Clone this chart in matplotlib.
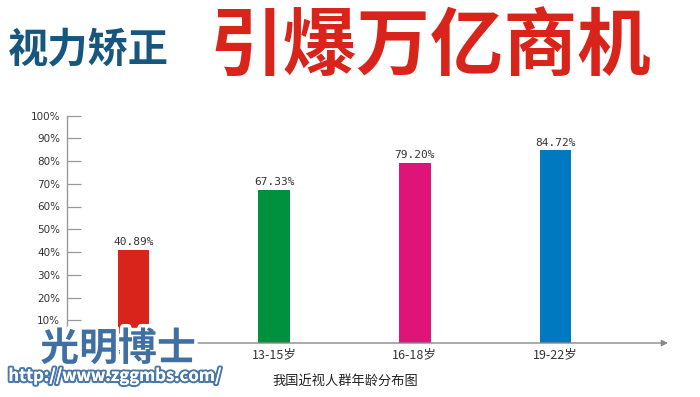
import matplotlib.pyplot as plt
import matplotlib.patheffects as pe

plt.rcParams['font.family'] = ['Noto Sans CJK SC', 'DejaVu Sans']

# data
ages = ["7-12岁", "13-15岁", "16-18岁", "19-22岁"]
rates = [40.89, 67.33, 79.20, 84.72]
bar_colors = ["#d9241c", "#00913f", "#df1479", "#0079c1"]
yticks = [10, 20, 30, 40, 50, 60, 70, 80, 90, 100]

fig = plt.figure(figsize=(7, 3.97), dpi=100)
fig.patch.set_facecolor("white")

# axes placed to match the pixel layout
ax = fig.add_axes([67 / 700, 1 - 343 / 397, (668 - 67) / 700, (343 - 115.5) / 397])
x = list(range(len(ages)))
ax.bar(x, rates, width=0.225, color=bar_colors, zorder=2)
ax.set_xlim(-0.473, 3.80)
ax.set_ylim(0, 100)

for xi, v in zip(x, rates):
    ax.text(xi, v + 1.2, f"{v:.2f}%", ha="center", va="bottom",
            fontsize=8, color="#333333", family="DejaVu Sans Mono")

ax.set_yticks(yticks)
ax.set_yticklabels([f"{t}%" for t in yticks], fontsize=7.5, color="#333333",
                   family="DejaVu Sans")
ax.tick_params(axis="y", direction="in", length=10, width=0.9, color="#999999", pad=5)
ax.set_xticks(x)
ax.set_xticklabels(ages, fontsize=9, color="#333333")
ax.tick_params(axis="x", length=0, pad=4)

for s in ["top", "right"]:
    ax.spines[s].set_visible(False)
ax.spines["left"].set_color("#999999")
ax.spines["left"].set_linewidth(1.0)
ax.spines["bottom"].set_visible(False)
ax.annotate("", xy=(1.0, 0), xytext=(0, 0), xycoords="axes fraction",
            arrowprops=dict(arrowstyle="-|>", color="#888888", lw=1.0,
                            mutation_scale=9, shrinkA=0, shrinkB=0))

fig.text(345 / 700, 1 - 381 / 397, "我国近视人群年龄分布图", ha="center", va="center",
         fontsize=9.5, color="#222222")

# headline
fig.text(8 / 700, 1 - 50 / 397, "视力矫正", ha="left", va="center",
         fontsize=29, fontweight="bold", color="#17577f")
fig.text(430 / 700, 1 - 48 / 397, "引爆万亿商机", ha="center", va="center",
         fontsize=53, fontweight="bold", color="#d9241c")

# watermark
fig.text(118 / 700, 1 - 349 / 397, "光明博士", ha="center", va="center",
         fontsize=28, fontweight="bold", color="#3f6fa3",
         path_effects=[pe.withStroke(linewidth=5, foreground="white")])
fig.text(115 / 700, 1 - 376 / 397, "http://www.zggmbs.com/", ha="center", va="center",
         fontsize=12, fontweight="bold", color="white",
         path_effects=[pe.withStroke(linewidth=3, foreground="#4a78a8"), pe.Normal()])

fig.savefig("out.png", dpi=100, facecolor="white")
